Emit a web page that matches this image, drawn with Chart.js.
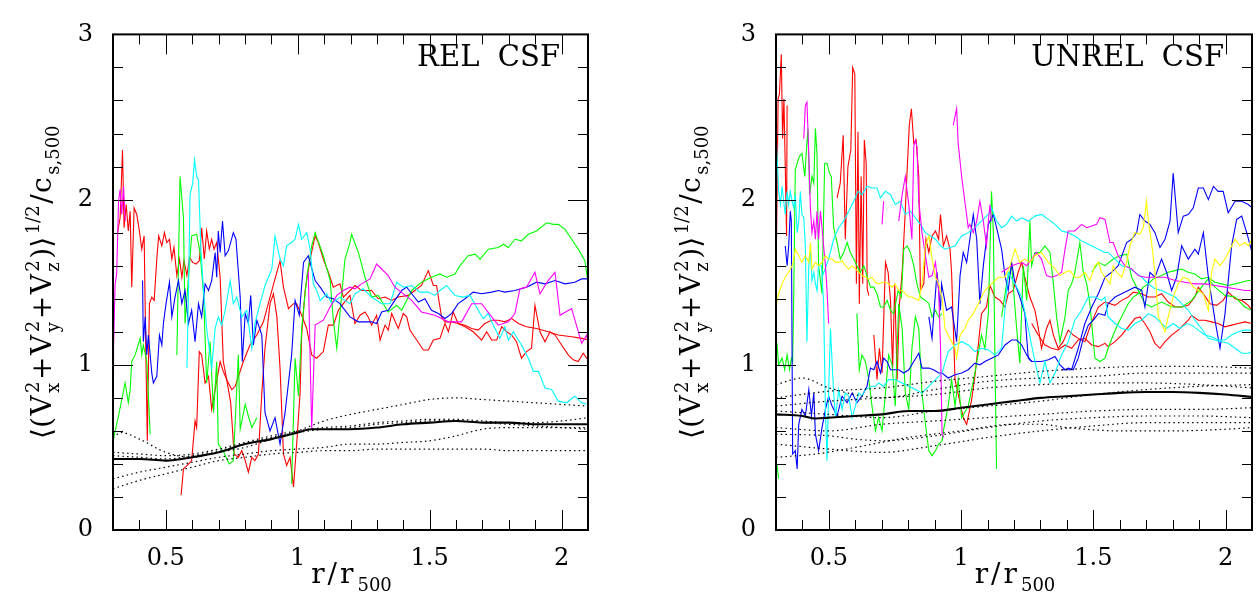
<!DOCTYPE html>
<html>
<head>
<meta charset="utf-8">
<script src="https://cdn.jsdelivr.net/npm/chart.js@4.4.1/dist/chart.umd.min.js"></script>
<style>
  html, body { margin: 0; padding: 0; background: #fff; }
  #wrap { position: relative; width: 1259px; height: 601px; }
  canvas { position: absolute; top: 0; }
  #left { left: 0; }
  #right { left: 630px; }
</style>
</head>
<body>
<div id="wrap">
  <canvas id="left" width="630" height="601"></canvas>
  <canvas id="right" width="629" height="601"></canvas>
</div>
<script>
// axis ranges and tick labels
const xRange = [0.3, 2.1];
const yRange = [0, 3];
const xTickLabels = [0.5, 1, 1.5, 2];
const yTickLabels = [0, 1, 2, 3];

// ---------- REL CSF panel ----------
const relBlack = [[0.3,0.43],[0.4,0.43],[0.5,0.42],[0.6,0.44],[0.7,0.47],[0.8,0.52],[0.9,0.55],[1.0,0.59],[1.05,0.61],[1.1,0.61],[1.2,0.61],[1.3,0.62],[1.4,0.64],[1.5,0.65],[1.6,0.66],[1.7,0.65],[1.8,0.65],[1.9,0.64],[2.0,0.64],[2.1,0.64]];
const relDot1 = [[0.3,0.56],[0.33,0.59],[0.4,0.55],[0.5,0.47],[0.6,0.44],[0.7,0.47],[0.8,0.50],[0.9,0.55],[1.0,0.60],[1.1,0.66],[1.2,0.70],[1.3,0.73],[1.4,0.76],[1.5,0.79],[1.6,0.80],[1.7,0.79],[1.8,0.78],[1.9,0.77],[2.0,0.76],[2.1,0.75]];
const relDot2 = [[0.3,0.31],[0.4,0.35],[0.5,0.38],[0.6,0.41],[0.7,0.44],[0.8,0.46],[0.9,0.48],[1.0,0.49],[1.1,0.50],[1.2,0.52],[1.3,0.52],[1.4,0.53],[1.5,0.54],[1.6,0.57],[1.7,0.61],[1.8,0.62],[1.9,0.62],[2.0,0.62],[2.1,0.62]];
const relDot3 = [[0.3,0.25],[0.4,0.30],[0.5,0.34],[0.6,0.38],[0.7,0.42],[0.8,0.44],[0.9,0.46],[1.0,0.47],[1.1,0.48],[1.2,0.48],[1.3,0.49],[1.4,0.49],[1.5,0.49],[1.6,0.49],[1.7,0.49],[1.8,0.48],[1.9,0.48],[2.0,0.48],[2.1,0.48]];
const relDot4 = [[0.3,0.47],[0.4,0.46],[0.5,0.45],[0.6,0.46],[0.7,0.49],[0.8,0.53],[0.9,0.57],[1.0,0.60],[1.1,0.62],[1.2,0.63],[1.3,0.65],[1.4,0.66],[1.5,0.67],[1.6,0.67],[1.7,0.66],[1.8,0.65],[1.9,0.65],[2.0,0.66],[2.1,0.68]];
const relDot5 = [[0.3,0.45],[0.4,0.44],[0.5,0.43],[0.6,0.45],[0.7,0.48],[0.8,0.52],[0.9,0.56],[1.0,0.59],[1.1,0.61],[1.2,0.62],[1.3,0.64],[1.4,0.65],[1.5,0.66],[1.6,0.66],[1.7,0.65],[1.8,0.64],[1.9,0.63],[2.0,0.62],[2.1,0.61]];

const relRedA = [[0.317,1.80],[0.327,1.89],[0.336,2.30],[0.342,1.83],[0.350,1.97],[0.358,1.81],[0.365,1.93],[0.371,1.47],[0.380,1.95],[0.390,1.91],[0.400,1.81],[0.409,1.70],[0.418,1.78],[0.425,1.02],[0.430,0.54],[0.438,1.37],[0.447,1.41],[0.456,1.39],[0.466,1.64],[0.473,1.78],[0.485,1.72],[0.495,1.80],[0.504,1.74],[0.514,1.76],[0.523,1.64],[0.531,1.71],[0.542,1.54],[0.552,1.64],[0.561,1.53],[0.569,1.63],[0.580,1.54],[0.590,1.65],[0.602,1.62],[0.615,1.61],[0.627,1.63],[0.636,1.83],[0.646,1.64],[0.655,1.81],[0.665,1.70],[0.674,1.76],[0.683,1.70],[0.693,1.74],[0.706,1.53],[0.718,1.02],[0.731,0.91],[0.746,0.77],[0.759,0.46],[0.775,0.44],[0.788,0.48],[0.801,0.42],[0.813,0.35],[0.826,0.44],[0.838,0.42],[0.851,0.46],[0.864,0.83],[0.876,1.10],[0.895,1.37],[0.908,1.43],[0.921,1.29],[0.933,0.98],[0.946,0.46],[0.958,0.39],[0.971,0.44],[0.984,0.26],[0.996,0.52],[1.009,0.83],[1.015,1.18],[1.028,1.45],[1.047,1.64],[1.066,1.78],[1.078,1.74],[1.097,1.64],[1.116,1.56],[1.135,1.47],[1.160,1.49],[1.173,1.41],[1.217,1.48],[1.242,1.45],[1.280,1.45],[1.305,1.40],[1.331,1.41],[1.356,1.39],[1.381,1.41],[1.419,1.42],[1.444,1.45],[1.469,1.48],[1.495,1.57],[1.514,1.48],[1.526,1.48],[1.545,1.29],[1.558,1.26],[1.583,1.26],[1.608,1.25],[1.634,1.24],[1.659,1.22],[1.684,1.21],[1.709,1.25],[1.735,1.27],[1.760,1.27],[1.785,1.26],[1.811,1.28],[1.836,1.25],[1.867,1.23],[1.905,1.22],[1.949,1.20],[1.987,1.18],[2.038,1.17],[2.076,1.16],[2.1,1.15]];
const relRedB = [[0.558,0.21],[0.567,0.37],[0.580,0.39],[0.592,0.41],[0.598,0.42],[0.611,0.66],[0.617,0.62],[0.627,1.08],[0.636,1.06],[0.649,0.89],[0.662,0.93],[0.674,0.73],[0.687,0.85],[0.706,1.02],[0.718,0.96],[0.731,0.91],[0.750,0.85],[0.763,0.87],[0.794,1.02],[0.819,1.12],[0.845,1.18],[0.870,1.26],[0.895,1.41],[0.914,1.52],[0.933,1.63],[0.946,1.47],[0.965,1.34],[0.984,1.37],[0.996,1.37],[1.015,1.30],[1.034,1.22],[1.053,1.06],[1.072,1.04],[1.097,1.08],[1.116,1.24],[1.135,1.24],[1.154,1.33],[1.173,1.37],[1.198,1.42],[1.217,1.25],[1.236,1.30],[1.255,1.32],[1.267,1.29],[1.280,1.24],[1.299,1.30],[1.312,1.15],[1.331,1.24],[1.343,1.21],[1.356,1.31],[1.381,1.22],[1.400,1.31],[1.413,1.29],[1.425,1.21],[1.451,1.15],[1.476,1.09],[1.495,1.09],[1.514,1.15],[1.539,1.16],[1.558,1.25],[1.571,1.20],[1.589,1.32],[1.608,1.25],[1.634,1.23],[1.665,1.20],[1.697,1.15],[1.716,1.20],[1.735,1.15],[1.754,1.15],[1.773,1.23],[1.792,1.20],[1.811,1.18],[1.829,1.14],[1.848,1.04],[1.867,1.08],[1.886,1.10],[1.899,1.36],[1.918,1.20],[1.937,1.14],[1.956,1.20],[1.975,1.18],[2.000,1.12],[2.025,1.06],[2.044,1.03],[2.063,1.02],[2.082,1.07],[2.1,1.03]];
const relGreen = [[0.300,0.54],[0.321,0.69],[0.333,0.79],[0.346,0.89],[0.358,0.77],[0.365,0.85],[0.371,1.02],[0.384,1.06],[0.403,1.16],[0.409,1.06],[0.415,1.12],[0.428,1.02],[0.441,0.58],[0.47,null],[0.542,1.06],[0.554,2.14],[0.567,1.89],[0.573,1.25],[0.586,1.53],[0.598,1.78],[0.617,1.79],[0.630,1.68],[0.643,1.43],[0.655,0.89],[0.668,1.14],[0.681,0.71],[0.693,1.02],[0.699,0.52],[0.720,0.47],[0.740,0.40],[0.756,0.42],[0.775,1.06],[0.782,0.61],[0.801,0.76],[0.813,0.69],[0.826,0.62],[0.845,0.68],[0.9,null],[0.977,0.28],[0.990,1.04],[1.003,0.81],[1.015,1.22],[1.034,1.53],[1.053,1.72],[1.066,1.80],[1.097,1.66],[1.123,1.51],[1.135,1.27],[1.148,1.10],[1.160,1.31],[1.179,1.64],[1.198,1.74],[1.204,1.79],[1.230,1.68],[1.255,1.53],[1.280,1.41],[1.305,1.42],[1.343,1.32],[1.375,1.36],[1.394,1.33],[1.432,1.45],[1.469,1.50],[1.507,1.53],[1.539,1.55],[1.564,1.53],[1.596,1.55],[1.615,1.60],[1.646,1.66],[1.672,1.67],[1.691,1.64],[1.722,1.70],[1.760,1.71],[1.779,1.73],[1.798,1.71],[1.823,1.76],[1.848,1.75],[1.874,1.79],[1.905,1.81],[1.943,1.86],[1.968,1.85],[1.987,1.85],[2.013,1.82],[2.038,1.76],[2.063,1.70],[2.088,1.63],[2.1,1.50]];
const relBlue = [[0.412,1.51],[0.415,1.14],[0.422,1.29],[0.428,1.06],[0.434,1.18],[0.447,0.95],[0.453,0.89],[0.466,0.93],[0.476,1.18],[0.485,1.12],[0.491,1.25],[0.501,1.37],[0.514,1.50],[0.523,1.29],[0.535,1.41],[0.548,1.51],[0.561,1.37],[0.573,1.45],[0.586,1.25],[0.598,1.33],[0.611,1.14],[0.624,1.37],[0.636,1.29],[0.649,1.49],[0.662,1.45],[0.674,1.51],[0.687,1.68],[0.693,1.53],[0.699,1.81],[0.706,1.68],[0.715,1.87],[0.725,1.66],[0.737,1.69],[0.756,1.80],[0.766,1.76],[0.782,1.41],[0.790,1.02],[0.801,1.31],[0.813,1.25],[0.822,1.42],[0.832,1.12],[0.845,1.27],[0.864,1.18],[0.876,0.71],[0.895,0.60],[0.914,0.68],[0.933,0.52],[0.952,0.71],[0.977,1.06],[0.990,1.39],[1.006,1.30],[1.022,1.62],[1.040,1.66],[1.066,1.51],[1.085,1.47],[1.110,1.41],[1.135,1.40],[1.160,1.37],[1.198,1.29],[1.230,1.26],[1.280,1.26],[1.299,1.25],[1.318,1.32],[1.343,1.33],[1.368,1.39],[1.394,1.45],[1.413,1.47],[1.432,1.43],[1.457,1.38],[1.482,1.40],[1.507,1.33],[1.533,1.31],[1.558,1.28],[1.583,1.31],[1.608,1.37],[1.634,1.40],[1.665,1.44],[1.697,1.43],[1.735,1.44],[1.760,1.45],[1.785,1.44],[1.823,1.45],[1.867,1.47],[1.905,1.50],[1.937,1.49],[1.975,1.51],[2.013,1.49],[2.050,1.50],[2.076,1.52],[2.1,1.52]];
const relCyan = [[0.580,0.98],[0.586,1.43],[0.592,2.03],[0.602,2.10],[0.609,2.24],[0.617,2.14],[0.624,2.12],[0.633,1.70],[0.643,1.45],[0.655,1.22],[0.668,1.06],[0.674,0.98],[0.687,1.22],[0.699,1.29],[0.712,1.24],[0.725,1.33],[0.744,1.51],[0.756,1.37],[0.769,1.41],[0.788,1.29],[0.807,1.33],[0.826,1.10],[0.838,1.25],[0.857,1.37],[0.876,1.48],[0.902,1.58],[0.914,1.78],[0.933,1.64],[0.946,1.60],[0.958,1.72],[0.977,1.74],[0.990,1.76],[1.003,1.85],[1.015,1.76],[1.034,1.80],[1.047,1.70],[1.059,1.49],[1.072,1.45],[1.085,1.39],[1.110,1.43],[1.129,1.37],[1.160,1.41],[1.198,1.37],[1.217,1.43],[1.248,1.46],[1.280,1.41],[1.318,1.37],[1.350,1.37],[1.375,1.50],[1.400,1.47],[1.432,1.48],[1.463,1.44],[1.495,1.44],[1.520,1.42],[1.539,1.45],[1.564,1.48],[1.596,1.42],[1.627,1.41],[1.653,1.42],[1.691,1.31],[1.703,1.28],[1.722,1.31],[1.735,1.26],[1.766,1.16],[1.785,1.23],[1.798,1.15],[1.817,1.20],[1.848,1.12],[1.874,1.04],[1.893,0.96],[1.912,0.96],[1.937,0.86],[1.962,0.85],[1.987,0.78],[2.019,0.77],[2.050,0.81],[2.076,0.77],[2.1,0.76]];
const relMagenta = [[0.300,0.94],[0.302,1.10],[0.308,1.49],[0.314,1.55],[0.321,1.99],[0.327,2.06],[0.333,1.91],[0.340,2.08],[0.346,1.87],[0.5,null],[1.040,1.56],[1.053,0.61],[1.066,1.24],[1.097,1.27],[1.123,1.35],[1.148,1.42],[1.173,1.45],[1.198,1.47],[1.217,1.46],[1.242,1.49],[1.274,1.52],[1.299,1.61],[1.318,1.58],[1.343,1.54],[1.368,1.47],[1.432,1.39],[1.469,1.32],[1.520,1.30],[1.571,1.26],[1.621,1.26],[1.659,1.37],[1.697,1.37],[1.735,1.29],[1.760,1.24],[1.798,1.26],[1.823,1.31],[1.842,1.46],[1.867,1.47],[1.899,1.56],[1.918,1.43],[1.949,1.51],[1.975,1.56],[1.994,1.30],[2.038,1.34],[2.076,1.13],[2.095,1.18],[2.1,1.13]];

// ---------- UNREL CSF panel ----------
const unrelBlack = [[0.3,0.70],[0.4,0.69],[0.45,0.675],[0.5,0.68],[0.6,0.69],[0.7,0.70],[0.8,0.72],[0.9,0.72],[1.0,0.74],[1.1,0.76],[1.2,0.78],[1.3,0.80],[1.4,0.81],[1.5,0.82],[1.6,0.83],[1.7,0.835],[1.8,0.835],[1.9,0.83],[2.0,0.82],[2.1,0.805]];
const unrelDot1 = [[0.3,0.80],[0.5,0.84],[0.7,0.86],[0.9,0.90],[1.1,0.93],[1.3,0.96],[1.5,0.98],[1.7,0.99],[1.9,0.99],[2.1,0.98]];
const unrelDot2 = [[0.3,0.88],[0.4,0.92],[0.5,0.86],[0.7,0.80],[0.9,0.85],[1.1,0.90],[1.3,0.92],[1.5,0.93],[1.7,0.95],[1.9,0.95],[2.1,0.95]];
const unrelDot3 = [[0.3,0.75],[0.5,0.78],[0.7,0.80],[0.9,0.82],[1.1,0.86],[1.3,0.88],[1.5,0.89],[1.7,0.89],[1.9,0.88],[2.1,0.86]];
const unrelDot4 = [[0.3,0.72],[0.5,0.70],[0.7,0.68],[0.9,0.72],[1.1,0.75],[1.3,0.78],[1.5,0.82],[1.7,0.85],[1.9,0.87],[2.1,0.88]];
const unrelDot5 = [[0.3,0.62],[0.5,0.60],[0.7,0.64],[0.9,0.66],[1.1,0.68],[1.3,0.70],[1.5,0.72],[1.7,0.73],[1.9,0.73],[2.1,0.74]];
const unrelDot6 = [[0.3,0.58],[0.5,0.57],[0.6,0.55],[0.7,0.54],[0.9,0.57],[1.1,0.62],[1.3,0.66],[1.5,0.68],[1.7,0.69],[1.9,0.69],[2.1,0.68]];
const unrelDot7 = [[0.3,0.52],[0.5,0.49],[0.7,0.47],[0.9,0.51],[1.1,0.56],[1.3,0.60],[1.5,0.63],[1.7,0.65],[1.9,0.65],[2.1,0.65]];
const unrelDot8 = [[0.3,0.44],[0.45,0.46],[0.6,0.50],[0.8,0.56],[1.0,0.60],[1.2,0.64],[1.3,0.64],[1.4,0.62],[1.6,0.60],[1.8,0.60],[2.0,0.61],[2.1,0.62]];

const unrelRed1 = [[0.300,1.87],[0.302,1.76],[0.308,2.61],[0.313,2.64],[0.320,2.88],[0.325,2.37],[0.330,2.61],[0.335,2.20],[0.340,1.78],[0.342,2.57]];
const unrelRed2 = [[0.531,2.01],[0.543,2.10],[0.554,2.39],[0.562,1.76],[0.572,2.20],[0.583,2.30],[0.590,2.80],[0.598,2.76],[0.604,1.49],[0.610,2.41],[0.615,1.37],[0.622,2.14],[0.628,1.49],[0.634,2.36],[0.641,2.22],[0.645,1.46],[0.651,1.42]];
const unrelRed3 = [[0.670,1.18],[0.682,0.91],[0.691,1.10],[0.701,0.95],[0.714,1.62],[0.724,1.56],[0.733,1.39],[0.741,0.98],[0.749,1.49],[0.758,0.91],[0.767,1.37],[0.777,1.56],[0.787,1.87],[0.796,2.18],[0.804,2.45],[0.812,2.55],[0.821,2.34],[0.830,2.36],[0.840,2.14],[0.846,1.45],[0.859,1.49],[0.867,1.76],[0.878,1.68],[0.890,1.78],[0.903,1.81],[0.915,1.76],[0.922,1.91],[0.933,1.72],[0.945,1.78],[0.958,1.70],[0.964,1.56],[0.977,0.91],[0.996,0.77],[1.008,0.68],[1.021,0.64],[1.040,0.79],[1.052,0.93],[1.065,1.12],[1.077,1.31],[1.096,1.35],[1.109,1.48],[1.128,1.41],[1.147,1.39],[1.166,1.35],[1.178,1.43],[1.197,1.45],[1.216,1.56],[1.229,1.62],[1.241,1.53],[1.260,1.41],[1.279,1.33],[1.292,1.22],[1.304,1.10],[1.323,1.22],[1.336,1.27],[1.349,1.18],[1.367,1.10],[1.386,1.14],[1.405,1.21],[1.424,1.18],[1.443,1.16],[1.468,1.14],[1.494,1.26],[1.519,1.35],[1.544,1.38],[1.582,1.36],[1.607,1.39],[1.632,1.41],[1.651,1.44],[1.683,1.43],[1.708,1.41],[1.733,1.41],[1.758,1.43],[1.783,1.38],[1.809,1.35],[1.834,1.35],[1.859,1.36],[1.884,1.41],[1.897,1.47],[1.916,1.43],[1.941,1.37],[1.966,1.36],[1.991,1.39],[2.010,1.44],[2.036,1.40],[2.061,1.39],[2.086,1.36],[2.1,1.33]];
const unrelRed4 = [[1.267,1.25],[1.292,1.18],[1.317,1.12],[1.342,1.10],[1.367,1.09],[1.393,1.12],[1.418,1.10],[1.443,1.15],[1.468,1.16],[1.494,1.12],[1.519,1.11],[1.544,1.13],[1.556,1.11],[1.582,1.14],[1.607,1.18],[1.632,1.23],[1.657,1.28],[1.676,1.29],[1.695,1.25],[1.714,1.20],[1.733,1.13],[1.752,1.10],[1.771,1.14],[1.796,1.18],[1.821,1.21],[1.840,1.24],[1.859,1.27],[1.872,1.30],[1.897,1.27],[1.922,1.27],[1.947,1.26],[1.972,1.25],[1.998,1.23],[2.023,1.24],[2.048,1.25],[2.073,1.26],[2.1,1.25]];

const unrelGreen1 = [[0.300,1.10],[0.304,1.12],[0.310,1.00],[0.323,1.04],[0.333,0.97],[0.342,1.06],[0.351,0.97],[0.358,1.04],[0.363,1.02],[0.367,1.41],[0.373,2.18],[0.380,2.22],[0.388,2.26],[0.398,2.28],[0.409,2.14],[0.415,2.30],[0.421,2.43],[0.427,2.03],[0.436,2.14],[0.443,2.10],[0.449,2.43],[0.455,2.28],[0.461,1.60],[0.474,1.43],[0.484,2.22],[0.493,2.22],[0.502,2.16],[0.509,2.14],[0.518,1.83],[0.531,1.74],[0.543,1.64],[0.556,1.68],[0.569,1.74],[0.581,1.68],[0.594,1.64],[0.606,1.60],[0.619,1.56],[0.632,1.60],[0.644,1.54],[0.657,1.47],[0.670,1.47],[0.682,1.43],[0.695,1.35],[0.707,1.35],[0.720,1.39],[0.733,1.33],[0.745,1.31],[0.762,1.45],[0.774,1.41],[0.783,1.70],[0.796,1.72],[0.808,1.68],[0.821,1.60],[0.833,1.49],[0.846,1.41],[0.865,1.39],[0.878,1.37],[0.890,1.29],[0.903,1.33],[0.915,1.29],[0.928,1.31]];
const unrelGreen2 = [[0.300,0.41],[0.304,0.39],[0.310,0.31],[0.4,null],[0.606,1.31],[0.615,0.97],[0.625,1.06],[0.638,1.02],[0.651,0.91],[0.663,0.75],[0.676,0.60],[0.688,0.68],[0.701,0.60],[0.714,0.83],[0.726,1.06],[0.739,1.00],[0.751,0.75],[0.764,1.37],[0.777,1.22],[0.789,0.83],[0.802,0.73],[0.814,1.10],[0.827,1.29],[0.840,1.22],[0.852,0.83],[0.865,0.64],[0.878,0.48],[0.890,0.45],[0.903,0.48],[0.915,0.52],[0.928,0.54],[0.933,0.60],[0.951,0.75],[0.964,0.91],[0.977,0.75],[0.989,0.91],[1.002,0.68],[1.027,0.75],[1.052,0.95],[1.077,1.18],[1.090,1.10],[1.103,1.31],[1.115,2.05],[1.122,1.80],[1.128,1.02],[1.134,0.37]];
const unrelGreen3 = [[1.153,1.29],[1.172,1.49],[1.191,1.60],[1.210,1.22],[1.222,1.01],[1.235,1.60],[1.248,1.39],[1.260,1.87],[1.267,1.60],[1.279,1.68],[1.298,1.68],[1.317,1.72],[1.336,1.68],[1.349,1.49],[1.361,1.29],[1.374,1.14],[1.393,1.29],[1.405,1.45],[1.418,1.49],[1.430,1.56],[1.449,1.74],[1.462,1.56],[1.475,1.49],[1.487,1.37],[1.506,1.04],[1.525,1.02],[1.544,1.04],[1.556,1.10],[1.575,1.18],[1.594,1.25],[1.613,1.31],[1.632,1.37],[1.651,1.41],[1.670,1.43],[1.689,1.47],[1.708,1.49],[1.727,1.52],[1.758,1.54],[1.783,1.56],[1.809,1.57],[1.834,1.58],[1.859,1.56],[1.884,1.55],[1.909,1.52],[1.935,1.53],[1.960,1.50],[1.985,1.49],[2.010,1.48],[2.036,1.49],[2.061,1.50],[2.086,1.51],[2.1,1.51]];
const unrelGreen4 = [[1.494,1.56],[1.519,1.62],[1.544,1.60],[1.575,1.64],[1.601,1.66],[1.626,1.67],[1.645,1.53],[1.670,1.45],[1.695,1.37],[1.720,1.35],[1.758,1.38],[1.796,1.35],[1.834,1.35],[1.872,1.39],[1.909,1.47],[1.935,1.52],[1.960,1.47],[1.998,1.42],[2.036,1.41],[2.073,1.35],[2.1,1.33]];

const unrelBlue1 = [[0.335,1.72],[0.342,1.60],[0.348,1.72],[0.354,1.93],[0.358,1.87],[0.363,0.46],[0.373,0.48],[0.380,0.37],[0.386,0.64],[0.398,0.73],[0.411,0.69],[0.424,0.85],[0.434,0.69],[0.443,0.83],[0.449,0.58],[0.461,0.48],[0.474,0.62],[0.487,0.73],[0.499,0.81],[0.512,0.75],[0.531,0.69],[0.550,0.81],[0.569,0.77],[0.588,0.83],[0.606,0.77],[0.625,0.81],[0.644,0.87],[0.657,0.98],[0.670,0.97],[0.682,1.02],[0.695,0.95],[0.707,1.04],[0.720,1.02],[0.733,0.97],[0.745,0.97],[0.764,0.97],[0.783,0.95],[0.802,0.97],[0.821,1.02],[0.840,1.07],[0.852,0.98],[0.878,0.98],[0.896,0.97],[0.915,0.95],[0.928,0.95],[0.951,0.92],[0.977,0.94],[1.002,0.95],[1.027,0.97],[1.052,1.01],[1.071,1.00],[1.090,1.02],[1.115,1.04],[1.141,1.06],[1.166,1.12],[1.191,1.15],[1.210,1.15],[1.229,1.12],[1.248,1.06],[1.267,1.02],[1.285,1.02],[1.304,1.02],[1.330,1.03],[1.355,1.05],[1.374,1.00],[1.393,0.97],[1.405,0.98],[1.424,0.97],[1.443,1.04],[1.462,1.16],[1.481,1.24],[1.500,1.27],[1.519,1.31],[1.544,1.30],[1.556,1.37],[1.582,1.41],[1.607,1.43],[1.632,1.45],[1.657,1.47],[1.683,1.45],[1.695,1.35],[1.714,1.56],[1.733,1.53],[1.758,1.64],[1.777,1.56],[1.796,1.45],[1.815,1.53],[1.834,1.72],[1.859,1.64],[1.884,1.70],[1.897,1.67],[1.916,1.80],[1.935,1.53],[1.960,1.27],[1.979,1.10],[1.998,1.31],[2.023,1.72],[2.042,1.88],[2.061,1.90],[2.080,1.80],[2.1,1.68]];
const unrelBlue2 = [[0.878,1.29],[0.890,1.16],[0.909,1.56],[0.922,1.33],[0.926,1.49],[0.945,1.33],[0.964,1.35],[0.983,1.14],[0.996,1.54],[1.008,1.68],[1.021,1.62],[1.033,1.76],[1.046,1.91],[1.059,1.76],[1.071,1.37],[1.084,1.60],[1.103,1.85],[1.122,1.91],[1.134,1.83],[1.153,1.70],[1.166,1.54],[1.178,1.45],[1.191,1.62],[1.204,1.49],[1.222,1.41],[1.241,1.31],[1.254,1.04],[1.267,1.02]];
const unrelBlue3 = [[1.380,0.97],[1.418,0.97],[1.443,1.10],[1.468,1.25],[1.494,1.35],[1.519,1.43],[1.544,1.53],[1.569,1.56],[1.594,1.60],[1.626,1.74],[1.645,1.76],[1.664,1.80],[1.676,1.91],[1.695,1.87],[1.714,1.85],[1.733,1.80],[1.752,1.71],[1.771,1.76],[1.790,1.87],[1.802,2.16],[1.821,1.80],[1.840,1.90],[1.859,1.91],[1.878,1.95],[1.897,2.07],[1.916,2.07],[1.935,2.00],[1.954,2.08],[1.972,2.05],[1.991,2.05],[2.010,1.92],[2.036,1.99],[2.061,1.99],[2.086,1.97],[2.1,1.95]];

const unrelCyan1 = [[0.300,2.20],[0.302,2.34],[0.306,2.20],[0.310,2.05],[0.317,1.97],[0.323,2.08],[0.329,1.99],[0.335,1.91],[0.342,2.05],[0.348,1.97],[0.354,2.05],[0.361,1.99],[0.367,1.95],[0.373,2.03],[0.380,1.80],[0.386,1.87],[0.392,2.05],[0.398,1.91],[0.405,1.89],[0.411,1.72],[0.417,1.14],[0.424,1.60],[0.430,1.70],[0.436,1.51],[0.443,1.56],[0.449,1.49],[0.455,1.45],[0.461,1.60],[0.472,1.60],[0.480,1.37],[0.487,0.71],[0.493,0.42],[0.499,0.83],[0.506,1.22],[0.512,1.02],[0.518,0.83],[0.525,0.68],[0.537,0.85],[0.550,0.73],[0.562,0.83],[0.575,0.81],[0.588,0.68],[0.600,0.75],[0.613,0.83],[0.625,0.81],[0.638,0.85],[0.663,0.87],[0.676,0.87],[0.688,0.89],[0.707,0.87],[0.726,0.91],[0.751,0.91],[0.777,0.89],[0.802,0.87],[0.827,0.85],[0.852,0.83],[0.878,0.87],[0.903,0.91],[0.928,0.95],[0.951,1.08],[0.977,1.12],[1.002,1.14],[1.027,1.12],[1.052,1.08],[1.077,1.10],[1.103,1.09],[1.128,1.06],[1.153,1.10],[1.178,1.56],[1.204,1.49],[1.229,1.41],[1.254,1.22],[1.279,1.02],[1.298,0.89],[1.317,1.02],[1.336,0.89],[1.355,0.95],[1.380,1.06],[1.405,1.14],[1.430,1.27],[1.456,1.33],[1.481,1.41],[1.506,1.41],[1.531,1.39],[1.544,1.41],[1.556,1.29],[1.582,1.25],[1.607,1.22],[1.632,1.21],[1.657,1.25],[1.683,1.27],[1.708,1.31],[1.733,1.29],[1.758,1.25],[1.777,1.22],[1.802,1.25],[1.827,1.22],[1.853,1.25],[1.872,1.24],[1.897,1.21],[1.922,1.18],[1.947,1.17],[1.972,1.15],[1.998,1.15],[2.023,1.18],[2.048,1.20],[2.073,1.21],[2.1,1.21]];
const unrelCyan2 = [[0.474,1.53],[0.499,1.64],[0.518,1.76],[0.537,1.83],[0.556,1.87],[0.575,1.93],[0.594,1.99],[0.610,2.05],[0.625,2.03],[0.644,2.08],[0.663,2.07],[0.682,2.07],[0.695,2.01],[0.714,2.05],[0.733,2.03],[0.751,1.97],[0.770,1.99],[0.789,1.91],[0.808,1.93],[0.827,1.89],[0.846,1.85],[0.865,1.80],[0.884,1.78],[0.903,1.76],[0.922,1.72],[0.939,1.70],[0.977,1.72],[1.002,1.78],[1.027,1.80],[1.052,1.83],[1.077,1.87],[1.103,1.91],[1.115,1.95],[1.134,1.87],[1.153,1.83],[1.172,1.85],[1.191,1.90],[1.210,1.87],[1.229,1.89],[1.254,1.87],[1.279,1.90],[1.304,1.91],[1.330,1.88],[1.355,1.85],[1.380,1.81],[1.405,1.80],[1.430,1.78],[1.456,1.75],[1.481,1.73],[1.519,1.70],[1.544,1.68],[1.556,1.68],[1.582,1.64],[1.607,1.60],[1.632,1.59],[1.657,1.56],[1.683,1.53],[1.708,1.49],[1.733,1.46],[1.758,1.45],[1.783,1.43],[1.809,1.41],[1.834,1.37],[1.859,1.33],[1.884,1.27],[1.909,1.22],[1.935,1.16],[1.960,1.15],[1.985,1.14],[2.010,1.13],[2.036,1.10],[2.061,1.07],[2.086,1.07],[2.1,1.08]];

const unrelMagenta1 = [[0.405,2.37],[0.411,2.57],[0.417,2.59],[0.424,2.28],[0.430,1.95],[0.436,1.80],[0.443,1.87],[0.449,1.76],[0.455,1.93],[0.461,1.76],[0.468,1.93],[0.474,1.83],[0.480,1.72],[0.487,1.60],[0.493,1.45],[0.499,1.25]];
const unrelMagenta2 = [[0.701,1.85],[0.707,1.99],[0.73,null],[0.764,1.87],[0.777,2.03],[0.789,2.14],[0.802,1.97],[0.814,1.76],[0.821,2.32],[0.827,2.36],[0.833,2.32],[0.840,1.99],[0.852,1.80],[0.871,1.60],[0.878,1.53],[0.890,1.54],[0.903,1.62],[0.915,1.45],[0.922,1.12],[0.928,0.58],[0.935,0.56]];
const unrelMagenta3 = [[0.970,2.45],[0.983,2.55],[0.989,2.34],[1.002,2.14],[1.014,1.99],[1.027,1.83],[1.033,1.85],[1.046,1.80],[1.059,1.87],[1.071,1.99],[1.084,1.87],[1.096,1.72],[1.103,1.87],[1.109,1.97],[1.115,1.87]];
const unrelMagenta4 = [[1.153,1.56],[1.172,1.58],[1.191,1.60],[1.210,1.61],[1.229,1.62],[1.248,1.60],[1.267,1.64],[1.285,1.68],[1.304,1.64],[1.323,1.54],[1.342,1.53],[1.361,1.54],[1.380,1.56],[1.393,1.70],[1.405,1.81],[1.430,1.81],[1.456,1.85],[1.475,1.83],[1.494,1.84],[1.512,1.85],[1.525,1.89],[1.544,1.88],[1.563,1.74],[1.575,1.74],[1.594,1.66],[1.619,1.60],[1.645,1.58],[1.670,1.54],[1.695,1.53],[1.720,1.53],[1.746,1.53],[1.771,1.53],[1.809,1.51],[1.846,1.50],[1.884,1.49],[1.922,1.49],[1.960,1.48],[1.998,1.47],[2.036,1.46],[2.073,1.45],[2.1,1.45]];

const unrelYellow = [[0.300,1.35],[0.310,1.43],[0.323,1.49],[0.335,1.53],[0.348,1.56],[0.361,1.60],[0.367,1.64],[0.373,1.70],[0.386,1.66],[0.398,1.62],[0.411,1.66],[0.424,1.62],[0.430,1.74],[0.436,1.58],[0.449,1.62],[0.461,1.60],[0.474,1.62],[0.487,1.66],[0.499,1.64],[0.512,1.64],[0.525,1.62],[0.537,1.62],[0.550,1.63],[0.562,1.60],[0.575,1.58],[0.588,1.60],[0.600,1.58],[0.613,1.56],[0.625,1.54],[0.638,1.53],[0.651,1.52],[0.663,1.53],[0.676,1.50],[0.688,1.49],[0.701,1.50],[0.714,1.50],[0.726,1.49],[0.739,1.47],[0.751,1.49],[0.764,1.45],[0.777,1.45],[0.789,1.43],[0.802,1.41],[0.814,1.41],[0.827,1.40],[0.840,1.39],[0.852,1.49],[0.865,1.72],[0.878,1.78],[0.890,1.64],[0.903,1.53],[0.915,1.49],[0.928,1.41],[0.939,1.22],[0.951,1.18],[0.964,1.14],[0.977,1.10],[0.983,1.04],[0.996,1.18],[1.014,1.22],[1.027,1.27],[1.046,1.31],[1.065,1.37],[1.090,1.45],[1.115,1.49],[1.141,1.53],[1.166,1.53],[1.185,1.60],[1.204,1.70],[1.222,1.62],[1.241,1.64],[1.260,1.62],[1.279,1.66],[1.304,1.68],[1.330,1.62],[1.355,1.58],[1.374,1.54],[1.393,1.56],[1.412,1.57],[1.430,1.53],[1.449,1.53],[1.468,1.56],[1.487,1.51],[1.506,1.60],[1.519,1.62],[1.531,1.56],[1.544,1.53],[1.563,1.49],[1.575,1.60],[1.588,1.56],[1.607,1.53],[1.626,1.62],[1.638,1.72],[1.657,1.80],[1.676,1.79],[1.689,1.83],[1.701,1.99],[1.708,1.87],[1.720,1.74],[1.733,1.56],[1.746,1.29],[1.758,1.25],[1.771,1.20],[1.783,1.29],[1.802,1.41],[1.821,1.49],[1.840,1.53],[1.859,1.52],[1.878,1.47],[1.897,1.45],[1.916,1.43],[1.935,1.33],[1.947,1.56],[1.960,1.64],[1.979,1.60],[1.998,1.64],[2.017,1.70],[2.036,1.76],[2.054,1.72],[2.073,1.74],[2.086,1.72],[2.1,1.76]];

// ---------- helpers ----------
const SERIF = '"DejaVu Serif", "Liberation Serif", serif';

function pts(arr) {
  return arr.map(p => ({ x: p[0], y: p[1] }));
}

function line(arr, color, kind) {
  const ds = {
    data: pts(arr),
    borderColor: color,
    borderWidth: 1.1,
    pointRadius: 0,
    tension: 0,
    spanGaps: false,
    fill: false
  };
  if (kind === 'thick') {
    ds.borderWidth = 2.1;
    ds.cubicInterpolationMode = 'monotone';
  }
  if (kind === 'dot') {
    ds.borderWidth = 1.2;
    ds.borderDash = [1.5, 3.2];
    ds.cubicInterpolationMode = 'monotone';
  }
  return ds;
}

// text with super/subscripts; gap = extra space after each piece
function partWidth(ctx, p, big, small) {
  if (p.t !== undefined) { ctx.font = big + 'px ' + SERIF; return ctx.measureText(p.t).width; }
  ctx.font = small + 'px ' + SERIF;
  return Math.max(ctx.measureText(p.p || p.s || '').width, ctx.measureText(p.b || p.u || '').width) + 1;
}

function drawRich(ctx, parts, cx, base, big, small, gap) {
  let total = 0;
  parts.forEach(p => { total += partWidth(ctx, p, big, small) + gap; });
  let x = cx - (total - gap) / 2;
  ctx.textAlign = 'left';
  ctx.textBaseline = 'alphabetic';
  parts.forEach(p => {
    const w = partWidth(ctx, p, big, small);
    if (p.t !== undefined) {
      ctx.font = big + 'px ' + SERIF;
      ctx.fillText(p.t, x, base);
    } else {
      ctx.font = small + 'px ' + SERIF;
      const up = p.p || p.s, dn = p.b || p.u;
      if (up) ctx.fillText(up, x + 1, base - big * 0.42);
      if (dn) ctx.fillText(dn, x + 1, base + big * 0.3);
    }
    x += w + gap;
  });
}

const yTitle = [
  { t: '\u27E8(' }, { t: 'V' }, { s: '2', u: 'x' }, { t: '+' }, { t: 'V' }, { s: '2', u: 'y' }, { t: '+' }, { t: 'V' }, { s: '2', u: 'z' },
  { t: ')\u27E9' }, { p: '1/2' }, { t: '/' }, { t: 'c' }, { b: 's,500' }
];
const xTitle = [{ t: 'r' }, { t: '/' }, { t: 'r' }, { b: '500' }];

const framePlugin = {
  id: 'frame',
  afterDraw(chart) {
    const { ctx, chartArea: a, scales } = chart;
    const sx = scales.x, sy = scales.y;
    const o = chart.options.plugins.frame;
    ctx.save();
    ctx.strokeStyle = '#000';
    ctx.lineWidth = 1;
    ctx.beginPath();
    for (let i = 3; i <= 21; i++) {
      const px = Math.round(sx.getPixelForValue(i / 10)) + 0.5;
      const len = (i % 5 === 0) ? 20 : 10;
      ctx.moveTo(px, a.bottom); ctx.lineTo(px, a.bottom - len);
      ctx.moveTo(px, a.top); ctx.lineTo(px, a.top + len);
    }
    for (let i = 0; i <= 15; i++) {
      const py = Math.round(sy.getPixelForValue(i / 5)) + 0.5;
      const len = (i % 5 === 0) ? 20 : 10;
      ctx.moveTo(a.left, py); ctx.lineTo(a.left + len, py);
      ctx.moveTo(a.right, py); ctx.lineTo(a.right - len, py);
    }
    ctx.stroke();
    ctx.lineWidth = 2;
    ctx.strokeRect(a.left, a.top, a.right - a.left, a.bottom - a.top);

    ctx.fillStyle = '#000';
    ctx.textAlign = 'right';
    ctx.textBaseline = 'alphabetic';
    ctx.font = '29px ' + SERIF;
    ctx.fillText(o.label, a.right - 28, 66);

    drawRich(ctx, xTitle, (a.left + a.right) / 2 + 1, 583, 28, 18, 3);

    ctx.translate(a.left - o.titleOffset, (a.top + a.bottom) / 2);
    ctx.rotate(-Math.PI / 2);
    drawRich(ctx, yTitle, 0, 0, 28, 18, 1.5);
    ctx.restore();
  }
};

function makePanel(id, label, series, yWidth, rightPad, titleOffset) {
  new Chart(document.getElementById(id), {
    type: 'line',
    data: { datasets: series },
    options: {
      responsive: false,
      animation: false,
      devicePixelRatio: 1,
      layout: { padding: { left: 0, right: rightPad, top: 12, bottom: 0 } },
      plugins: { legend: { display: false }, tooltip: { enabled: false }, frame: { label: label, titleOffset: titleOffset } },
      scales: {
        x: {
          type: 'linear', min: xRange[0], max: xRange[1],
          afterBuildTicks: s => { s.ticks = xTickLabels.map(v => ({ value: v })); },
          afterFit: s => { s.height = 71; },
          grid: { display: false, drawTicks: false },
          border: { display: false },
          ticks: { padding: 14, color: '#000', font: { family: SERIF, size: 24 }, maxRotation: 0, callback: v => String(v) }
        },
        y: {
          type: 'linear', min: yRange[0], max: yRange[1],
          afterBuildTicks: s => { s.ticks = yTickLabels.map(v => ({ value: v })); },
          afterFit: s => { s.width = yWidth; },
          grid: { display: false, drawTicks: false },
          border: { display: false },
          ticks: { padding: 20, color: '#000', font: { family: SERIF, size: 24 }, callback: v => String(v) }
        }
      }
    },
    plugins: [framePlugin]
  });
}

makePanel('left', 'REL  CSF', [
  line(relBlack, '#000', 'thick'),
  line(relDot1, '#000', 'dot'), line(relDot2, '#000', 'dot'), line(relDot3, '#000', 'dot'),
  line(relDot4, '#000', 'dot'), line(relDot5, '#000', 'dot'),
  line(relMagenta, '#ff00ff'), line(relCyan, '#00ffff'), line(relBlue, '#0000ff'),
  line(relGreen, '#00ff00'), line(relRedB, '#ff0000'), line(relRedA, '#ff0000')
], 113, 42, 62);

makePanel('right', 'UNREL  CSF', [
  line(unrelBlack, '#000', 'thick'),
  line(unrelDot1, '#000', 'dot'), line(unrelDot2, '#000', 'dot'), line(unrelDot3, '#000', 'dot'),
  line(unrelDot4, '#000', 'dot'), line(unrelDot5, '#000', 'dot'), line(unrelDot6, '#000', 'dot'),
  line(unrelDot7, '#000', 'dot'), line(unrelDot8, '#000', 'dot'),
  line(unrelYellow, '#ffff00'),
  line(unrelMagenta1, '#ff00ff'), line(unrelMagenta2, '#ff00ff'), line(unrelMagenta3, '#ff00ff'), line(unrelMagenta4, '#ff00ff'),
  line(unrelCyan1, '#00ffff'), line(unrelCyan2, '#00ffff'),
  line(unrelBlue1, '#0000ff'), line(unrelBlue2, '#0000ff'), line(unrelBlue3, '#0000ff'),
  line(unrelGreen1, '#00ff00'), line(unrelGreen2, '#00ff00'), line(unrelGreen3, '#00ff00'), line(unrelGreen4, '#00ff00'),
  line(unrelRed1, '#ff0000'), line(unrelRed2, '#ff0000'), line(unrelRed3, '#ff0000'), line(unrelRed4, '#ff0000')
], 146, 7, 76);
</script>
</body>
</html>
